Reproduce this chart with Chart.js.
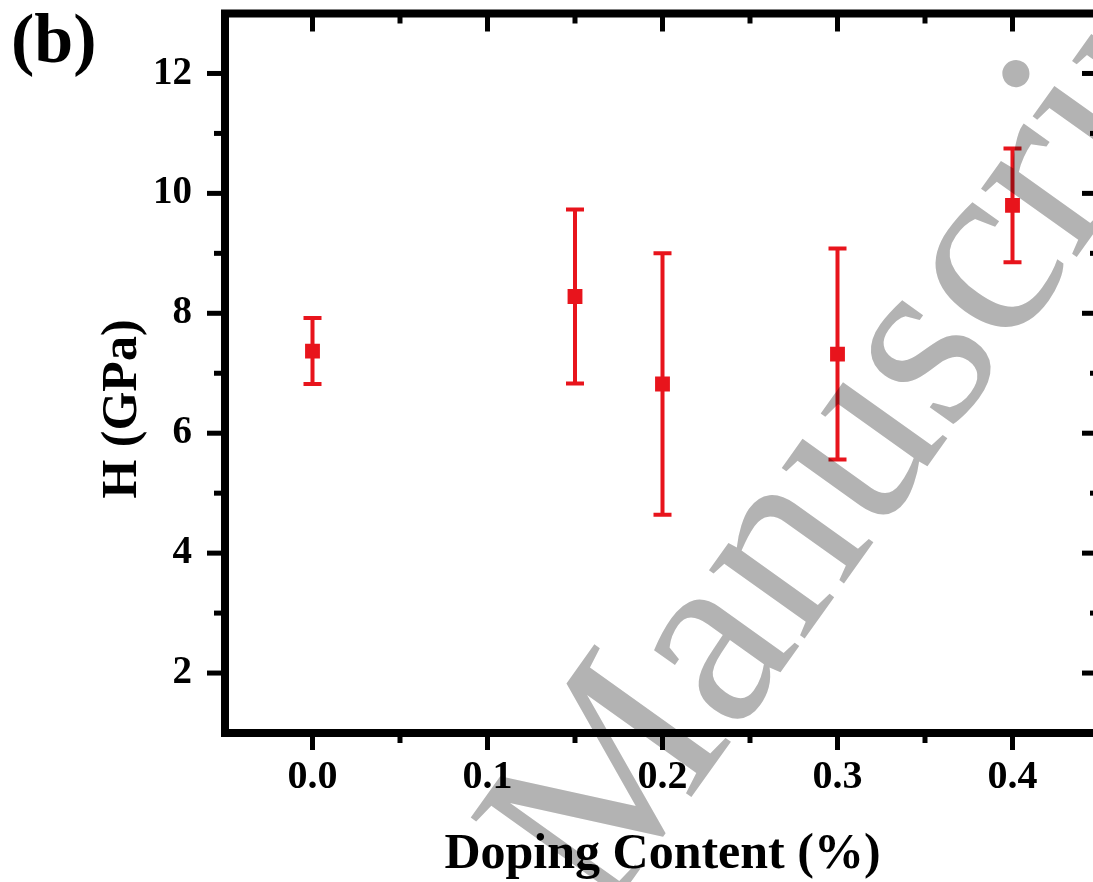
<!DOCTYPE html>
<html>
<head>
<meta charset="utf-8">
<script src="https://cdn.jsdelivr.net/npm/chart.js@4.4.0/dist/chart.umd.min.js"></script>
<style>
  html, body { margin: 0; padding: 0; background: #fff; overflow: hidden; }
  #wrap { width: 1120px; height: 882px; }
</style>
</head>
<body>
<div id="wrap"><canvas id="hChart" width="1120" height="882"></canvas></div>
<script>
// data
const doping = [0.0, 0.15, 0.2, 0.3, 0.4];
const hardness = [7.37, 8.28, 6.82, 7.32, 9.80];
const hardnessErr = [0.55, 1.45, 2.18, 1.76, 0.95];

const xTicks = [0.0, 0.1, 0.2, 0.3, 0.4];
const xMinorTicks = [0.05, 0.15, 0.25, 0.35];
const yTicks = [2, 4, 6, 8, 10, 12];
const yMinorTicks = [3, 5, 7, 9, 11];

const RED = "#e8141c";
const SERIF = '"Liberation Serif", "Times New Roman", serif';

// box + tick marks (outward on left/bottom, inward on top/right)
const frame = {
  id: "frame",
  beforeDatasetsDraw(chart) {
    const { ctx, chartArea: a, scales: { x, y } } = chart;
    const line = (x1, y1, x2, y2) => {
      ctx.beginPath(); ctx.moveTo(x1, y1); ctx.lineTo(x2, y2); ctx.stroke();
    };
    ctx.save();
    ctx.strokeStyle = "#000";
    ctx.lineWidth = 5;
    xTicks.forEach(v => {
      const px = x.getPixelForValue(v);
      line(px, a.bottom, px, a.bottom + 17);
      line(px, a.top, px, a.top + 18);
    });
    xMinorTicks.forEach(v => {
      const px = x.getPixelForValue(v);
      line(px, a.bottom, px, a.bottom + 10);
      line(px, a.top, px, a.top + 10);
    });
    yTicks.forEach(v => {
      const py = y.getPixelForValue(v);
      line(a.left - 18, py, a.left, py);
      line(a.right, py, a.right - 18, py);
    });
    yMinorTicks.forEach(v => {
      const py = y.getPixelForValue(v);
      line(a.left - 11, py, a.left, py);
      line(a.right, py, a.right - 10, py);
    });
    ctx.lineWidth = 8;
    ctx.strokeRect(a.left, a.top, a.right - a.left, a.bottom - a.top);
    ctx.restore();
  }
};

const errorBars = {
  id: "errorBars",
  beforeDatasetsDraw(chart) {
    const { ctx, scales: { x, y } } = chart;
    ctx.save();
    ctx.strokeStyle = RED;
    ctx.lineWidth = 4;
    doping.forEach((d, i) => {
      const px = x.getPixelForValue(d);
      const top = y.getPixelForValue(hardness[i] + hardnessErr[i]);
      const bot = y.getPixelForValue(hardness[i] - hardnessErr[i]);
      ctx.beginPath();
      ctx.moveTo(px, top); ctx.lineTo(px, bot);
      ctx.moveTo(px - 9, top); ctx.lineTo(px + 9, top);
      ctx.moveTo(px - 9, bot); ctx.lineTo(px + 9, bot);
      ctx.stroke();
    });
    ctx.restore();
  }
};

const labels = {
  id: "labels",
  afterDraw(chart) {
    const { ctx, chartArea: a } = chart;
    ctx.save();
    ctx.fillStyle = "#000";
    ctx.textBaseline = "alphabetic";

    ctx.font = "bold 70px " + SERIF;
    ctx.textAlign = "left";
    ctx.fillText("(b)", 11, 62);

    ctx.font = "bold 50px " + SERIF;
    ctx.textAlign = "center";
    ctx.fillText("Doping Content (%)", (a.left + a.right) / 2, 868);

    ctx.translate(136, 409);
    ctx.rotate(-Math.PI / 2);
    ctx.fillText("H (GPa)", 0, 0);
    ctx.restore();

    // watermark of the accepted manuscript
    ctx.save();
    ctx.globalCompositeOperation = "multiply";
    ctx.fillStyle = "#b3b3b3";
    ctx.font = "256px " + SERIF;
    ctx.translate(603, 921);
    ctx.rotate(-54.5 * Math.PI / 180);
    ctx.fillText("Manuscript", 0, 0);
    ctx.restore();
  }
};

new Chart(document.getElementById("hChart"), {
  type: "scatter",
  data: {
    datasets: [{
      label: "H",
      data: doping.map((d, i) => ({ x: d, y: hardness[i] })),
      pointStyle: "rect",
      pointRadius: 10.5,
      backgroundColor: RED,
      borderWidth: 0,
      showLine: false
    }]
  },
  options: {
    responsive: false,
    animation: false,
    layout: { padding: { top: 13.5, right: 20, left: 0, bottom: 0 } },
    plugins: { legend: { display: false }, tooltip: { enabled: false } },
    scales: {
      x: {
        type: "linear", min: -0.05, max: 0.45,
        grid: { display: false }, border: { display: false },
        afterBuildTicks: s => { s.ticks = xTicks.map(v => ({ value: v })); },
        afterFit: s => { s.height = 149; s.paddingLeft = 0; s.paddingRight = 0; },
        ticks: {
          autoSkip: false, maxRotation: 0, padding: 13, color: "#000",
          font: { family: SERIF, weight: "bold", size: 40 },
          callback: v => Number(v).toFixed(1)
        }
      },
      y: {
        type: "linear", min: 1, max: 13,
        grid: { display: false }, border: { display: false },
        afterBuildTicks: s => { s.ticks = yTicks.map(v => ({ value: v })); },
        afterFit: s => { s.width = 225; s.paddingTop = 0; s.paddingBottom = 0; },
        ticks: {
          autoSkip: false, padding: 25, color: "#000",
          font: { family: SERIF, weight: "bold", size: 39 },
          callback: v => String(v)
        }
      }
    }
  },
  plugins: [frame, errorBars, labels]
});
</script>
</body>
</html>
